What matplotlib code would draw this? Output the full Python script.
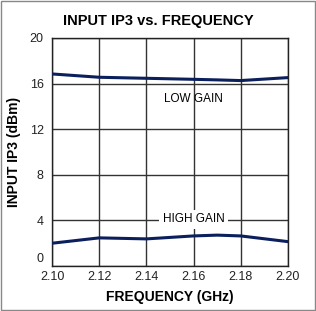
import matplotlib
matplotlib.use("Agg")
import matplotlib.pyplot as plt
import matplotlib.transforms as mtransforms
from matplotlib.patches import Rectangle

plt.rcParams['font.family'] = ['Liberation Sans', 'DejaVu Sans']

# data
freq = [2.10, 2.12, 2.14, 2.16, 2.17, 2.18, 2.20]
low_gain = [16.84, 16.55, 16.46, 16.37, 16.32, 16.26, 16.52]
high_gain = [1.99, 2.46, 2.37, 2.63, 2.70, 2.63, 2.13]
xticks = [2.10, 2.12, 2.14, 2.16, 2.18, 2.20]
xticklabels = ["2.10", "2.12", "2.14", "2.16", "2.18", "2.20"]
yticks = [0, 4, 8, 12, 16, 20]

fig = plt.figure(figsize=(3.16, 3.11), dpi=100)
ax = fig.add_axes([0.165, 0.145, 0.746, 0.733])

ax.set_xlim(2.10, 2.20)
ax.set_ylim(0, 20)
ax.set_xticks(xticks)
ax.set_xticklabels(xticklabels)
ax.set_yticks(yticks)
ax.tick_params(length=0, labelsize=9, pad=4, colors="#222222")
ax.tick_params(axis="y", pad=6)
ax.grid(True, color="#333333", linewidth=1.0)
for s in ax.spines.values():
    s.set_color("#222222")
    s.set_linewidth(1.0)

# nudge the "0" label up so it clears the 2.10 label
lab0 = ax.get_yticklabels()[0]
lab0.set_transform(lab0.get_transform() +
                   mtransforms.ScaledTranslation(0, 6 / 72, fig.dpi_scale_trans))

line_col = "#0b1f5c"
ax.plot(freq, low_gain, color=line_col, linewidth=2.2, zorder=3)
ax.plot(freq, high_gain, color=line_col, linewidth=2.2, zorder=3)

ax.text(2.16, 14.65, "LOW GAIN", ha="center", va="center", fontsize=8.5, zorder=4)
ax.text(2.16, 4.1, "HIGH GAIN", ha="center", va="center", fontsize=8.5, zorder=4,
        bbox=dict(facecolor="white", edgecolor="none", pad=2.5))

ax.set_xlabel("FREQUENCY (GHz)", fontsize=10, fontweight="bold", labelpad=5)
ax.set_ylabel("INPUT IP3 (dBm)", fontsize=10, fontweight="bold", labelpad=6)
fig.text(0.5, 0.932, "INPUT IP3 vs. FREQUENCY", ha="center", va="center",
         fontsize=10.5, fontweight="bold")

fig.patches.append(Rectangle((0.002, 0.002), 0.996, 0.996, transform=fig.transFigure,
                             fill=False, edgecolor="#888888", linewidth=1.0))

fig.savefig("out.png", dpi=100)
